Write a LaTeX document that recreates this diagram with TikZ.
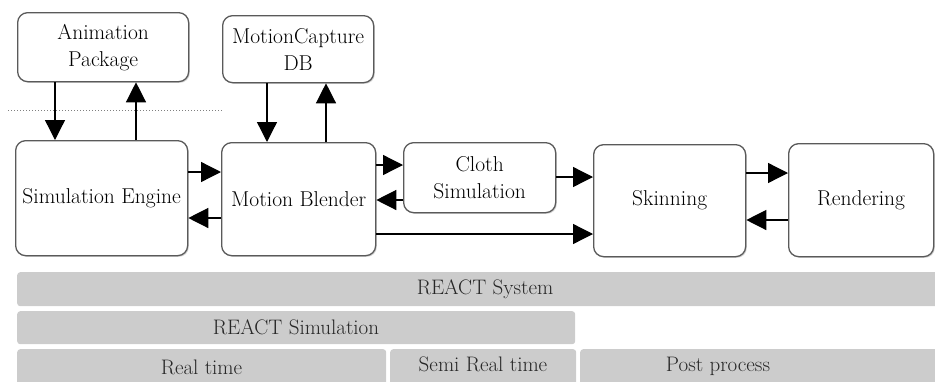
\documentclass[tikz,border=0pt]{standalone}
\usepackage{fontspec}
\usetikzlibrary{arrows.meta,shadows,calc}
\definecolor{barfill}{HTML}{CCCCCC}
\definecolor{edgegray}{HTML}{5A5A5A}
\tikzset{
  box/.style={draw=edgegray, line width=1.3pt, rounded corners=10pt, fill=white,
    anchor=north west, inner sep=0pt, align=center,
    font=\fontsize{21.5}{27}\selectfont,
    drop shadow={opacity=0.35, shadow xshift=1.2pt, shadow yshift=-1.2pt}},
  bar/.style={fill=barfill, rounded corners=3pt, anchor=north west, inner sep=0pt},
  lbl/.style={font=\fontsize{21}{24}\selectfont, text=black!85},
  arr/.style={line width=1.3pt, -{Triangle[length=20pt,width=20pt]}},
  sep/.style={gray, dotted, line width=1pt}
}
\begin{document}
\begin{tikzpicture}[x=1pt,y=-1pt]
\useasboundingbox (0,0) rectangle (935,381);
\begin{scope}
\clip (0,0) rectangle (935,381);
% upper boxes
\node[box, minimum width=171pt, minimum height=69pt] (ap) at (17,12) {Animation\\Package};
\node[box, minimum width=151pt, minimum height=67pt] (mc) at (222,15) {MotionCapture\\DB};
% main row
\node[box, minimum width=172pt, minimum height=115pt] (se) at (15,140) {Simulation Engine};
\node[box, minimum width=154pt, minimum height=113pt] (mb) at (221,142) {Motion Blender};
\node[box, minimum width=152pt, minimum height=70pt] (cl) at (403,142) {Cloth\\Simulation};
\node[box, minimum width=152pt, minimum height=112pt] (sk) at (593,144) {Skinning};
\node[box, minimum width=145pt, minimum height=113pt] (re) at (788,143) {Rendering};
% dotted separator
\coordinate (d1) at (8,110);
\coordinate (d2) at (223,110);
\draw[sep] (d1) -- (d2);
% vertical connectors
\draw[arr] (ap.south -| 55,0) -- (se.north -| 55,0);
\draw[arr] (se.north -| 136,0) -- (ap.south -| 136,0);
\draw[arr] (mc.south -| 267,0) -- (mb.north -| 267,0);
\draw[arr] (mb.north -| 326,0) -- (mc.south -| 326,0);
% horizontal connectors
\draw[arr] (se.east |- 0,172) -- (mb.west |- 0,172);
\draw[arr] (mb.west |- 0,218) -- (se.east |- 0,218);
\draw[arr] (mb.east |- 0,165) -- (cl.west |- 0,165);
\draw[arr] (cl.west |- 0,200) -- (mb.east |- 0,200);
\draw[arr] (cl.east |- 0,177) -- (sk.west |- 0,177);
\draw[arr] (mb.east |- 0,234) -- (sk.west |- 0,234);
\draw[arr] (sk.east |- 0,173) -- (re.west |- 0,173);
\draw[arr] (re.west |- 0,220) -- (sk.east |- 0,220);
% bars
\node[bar, minimum width=930pt, minimum height=34pt] (sys) at (17,272) {};
\node[lbl] (syst) at (485,289) {REACT System};
\node[bar, minimum width=558pt, minimum height=33pt] (sim) at (17,311) {};
\node[lbl] (simt) at (296,327) {REACT Simulation};
\node[bar, minimum width=369pt, minimum height=40pt] (rt) at (17,349) {};
\node[lbl] (rtt) at (201.5,367) {Real time};
\node[bar, minimum width=186pt, minimum height=40pt] (srt) at (390,349) {};
\node[lbl] (srtt) at (483,364) {Semi Real time};
\node[bar, minimum width=370pt, minimum height=40pt] (pp) at (580,349) {};
\node[lbl] (ppt) at (718,366) {Post process};
\end{scope}
\end{tikzpicture}
\end{document}
